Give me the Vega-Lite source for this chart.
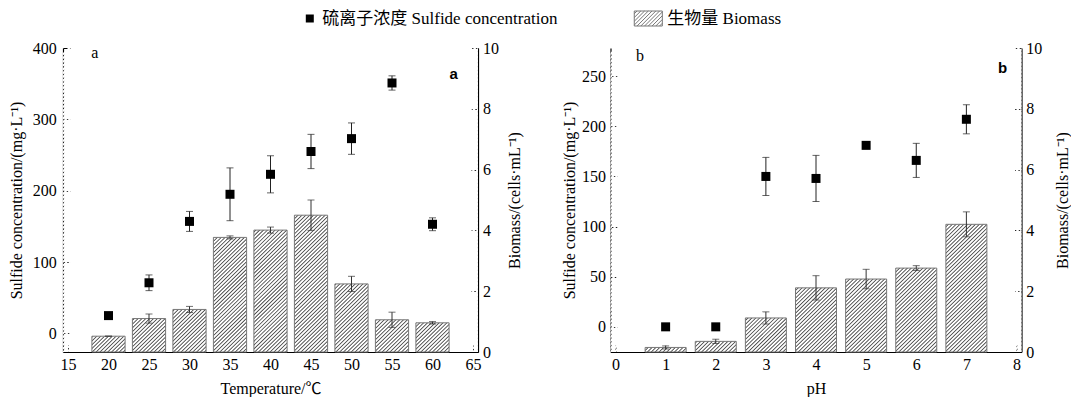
{
  "$schema": "https://vega.github.io/schema/vega-lite/v6.json",
  "padding": {"left": 8, "top": 10, "right": 0, "bottom": 0},
  "spacing": 132.5,
  "bounds": "flush",
  "config": {
    "view": {"stroke": null},
    "axis": {"domainColor": "black", "tickColor": "black", "labelColor": "black", "titleColor": "black", "labelFont": "Liberation Serif, Noto Sans CJK SC", "titleFont": "Liberation Serif, Noto Sans CJK SC", "labelFontSize": 16, "titleFontSize": 16, "titleFontWeight": "normal", "grid": false, "zindex": 1, "domainWidth": 1.2, "tickWidth": 1, "labelOverlap": false},
    "legend": {"padding": 0, "labelFont": "Liberation Serif, Noto Sans CJK SC", "labelFontSize": 17, "labelColor": "black", "labelLimit": 400}
  },
  "hconcat": [
    {
      "width": 415, "height": 304,
      "data": {"values": [
        {"t": 20, "s": 25, "se": 0, "b": 0.52, "be": 0},
        {"t": 25, "s": 71, "se": 11, "b": 1.10, "be": 0.15},
        {"t": 30, "s": 157, "se": 14, "b": 1.40, "be": 0.10},
        {"t": 35, "s": 195, "se": 37, "b": 3.77, "be": 0.05},
        {"t": 40, "s": 223, "se": 26, "b": 4.01, "be": 0.10},
        {"t": 45, "s": 255, "se": 24, "b": 4.50, "be": 0.50},
        {"t": 50, "s": 273, "se": 22, "b": 2.24, "be": 0.25},
        {"t": 55, "s": 351, "se": 10, "b": 1.06, "be": 0.25},
        {"t": 60, "s": 153, "se": 9, "b": 0.96, "be": 0.04}
      ]},
      "layer": [
        {"layer": [
          {"mark": {"type": "bar", "width": 33.2, "color": "#383838"},
           "encoding": {
             "x": {"field": "t", "type": "quantitative", "title": "Temperature/℃", "scale": {"domain": [15, 65], "nice": false, "zero": false}, "axis": {"values": [15, 20, 25, 30, 35, 40, 45, 50, 55, 60, 65], "tickSize": -7, "labelPadding": 11.5, "labelFlush": false, "titlePadding": 8}},
             "y": {"field": "b", "type": "quantitative", "title": "Biomass/(cells·mL⁻¹)", "scale": {"domain": [0, 10], "nice": false}, "axis": {"orient": "right", "values": [0, 1, 2, 3, 4, 5, 6, 7, 8, 9, 10], "labelExpr": "datum.value % 2 === 0 ? datum.label : ''", "tickSize": -7, "tickDash": {"condition": {"test": "datum.value % 2 !== 0", "value": [4, 20]}, "value": [8, 0]}, "titleAngle": -90, "titleBaseline": "top", "labelPadding": 11.5, "titlePadding": 8}}}},
          {"data": {"values": [{}]},
           "mark": {"type": "rule", "clip": true, "color": "white", "strokeWidth": 1200, "strokeDash": [1.9, 0.8], "strokeCap": "butt"},
           "encoding": {"x": {"datum": 15, "type": "quantitative"}, "x2": {"datum": 65}, "y": {"datum": 10, "type": "quantitative"}, "y2": {"datum": -3.65}}},
          {"mark": {"type": "bar", "width": 33.2, "fill": "transparent", "strokeWidth": 1},
           "encoding": {
             "x": {"field": "t", "type": "quantitative", "title": "Temperature/℃"},
             "y": {"field": "b", "type": "quantitative", "title": "Biomass/(cells·mL⁻¹)"},
             "stroke": {"datum": "生物量 Biomass", "scale": {"range": ["#777777"]}, "legend": {"orient": "none", "legendX": 576.8, "legendY": -38, "title": null, "symbolType": "M-1.87,-1H1.87V1H-1.87Z M-1.87,-0.63L-1.5,-1 M-1.87,-0.13L-1,-1 M-1.87,0.37L-0.5,-1 M-1.87,0.87L0,-1 M-1.5,1L0.5,-1 M-1,1L1,-1 M-0.5,1L1.5,-1 M0,1L1.87,-0.87 M0.5,1L1.87,-0.37 M1,1L1.87,0.13 M1.5,1L1.87,0.63", "symbolSize": 225, "symbolStrokeWidth": 1, "symbolFillColor": "white", "labelOffset": 10.5}}}},
          {"mark": {"type": "errorbar", "ticks": {"size": 7}, "color": "#333333"},
           "encoding": {"x": {"field": "t", "type": "quantitative", "title": "Temperature/℃"}, "y": {"field": "b", "type": "quantitative", "title": "Biomass/(cells·mL⁻¹)"}, "yError": {"field": "be"}}},
          {"data": {"values": [{}]},
           "mark": {"type": "text", "text": "a", "font": "Liberation Serif", "fontSize": 16, "baseline": "middle"},
           "encoding": {"x": {"datum": 18.3, "type": "quantitative"}, "y": {"datum": 9.82, "type": "quantitative"}}},
          {"data": {"values": [{}]},
           "mark": {"type": "text", "text": "a", "font": "Liberation Sans", "fontWeight": "bold", "fontSize": 15, "baseline": "middle"},
           "encoding": {"x": {"datum": 62.6, "type": "quantitative"}, "y": {"datum": 9.13, "type": "quantitative"}}}
        ]},
        {"layer": [
          {"mark": {"type": "errorbar", "ticks": {"size": 7}, "color": "#222222"},
           "encoding": {"x": {"field": "t", "type": "quantitative", "title": "Temperature/℃"}, "y": {"field": "s", "type": "quantitative", "title": "Sulfide concentration/(mg·L⁻¹)", "scale": {"domain": [-26, 400], "nice": false, "zero": false}}, "yError": {"field": "se"}}},
          {"mark": {"type": "point", "filled": true, "color": "black", "size": 81, "opacity": 1, "strokeWidth": 0},
           "encoding": {
             "x": {"field": "t", "type": "quantitative", "title": "Temperature/℃"},
             "y": {"field": "s", "type": "quantitative", "title": "Sulfide concentration/(mg·L⁻¹)", "axis": {"orient": "left", "values": [0, 25, 50, 75, 100, 125, 150, 175, 200, 225, 250, 275, 300, 325, 350, 375, 400], "labelExpr": "datum.value % 50 === 0 ? datum.label : ''", "tickSize": -7, "tickDash": {"condition": {"test": "datum.value % 50 !== 0", "value": [4, 20]}, "value": [8, 0]}, "labelPadding": 13.7, "titlePadding": 8}},
             "shape": {"datum": "硫离子浓度 Sulfide concentration", "scale": {"range": ["square"]}, "legend": {"orient": "none", "legendX": 238.3, "legendY": -38, "title": null, "symbolSize": 64, "symbolFillColor": "black", "symbolStrokeWidth": 0, "labelOffset": 4}}}}
        ]}
      ],
      "resolve": {"scale": {"y": "independent"}}
    },
    {
      "width": 411, "height": 304,
      "data": {"values": [
        {"p": 1, "s": 0, "se": 0, "b": 0.15, "be": 0.05},
        {"p": 2, "s": 0, "se": 0, "b": 0.35, "be": 0.07},
        {"p": 3, "s": 150, "se": 19, "b": 1.12, "be": 0.20},
        {"p": 4, "s": 148, "se": 23, "b": 2.11, "be": 0.40},
        {"p": 5, "s": 181, "se": 0, "b": 2.40, "be": 0.32},
        {"p": 6, "s": 166, "se": 17, "b": 2.76, "be": 0.08},
        {"p": 7, "s": 207, "se": 14.5, "b": 4.20, "be": 0.41}
      ]},
      "layer": [
        {"layer": [
          {"mark": {"type": "bar", "width": 41, "color": "#383838"},
           "encoding": {
             "x": {"field": "p", "type": "quantitative", "title": "pH", "scale": {"domain": [0, 8], "nice": false, "zero": false}, "axis": {"values": [0, 1, 2, 3, 4, 5, 6, 7, 8], "tickSize": -7, "labelPadding": 11.5, "labelFlush": false, "titlePadding": 8}},
             "y": {"field": "b", "type": "quantitative", "title": "Biomass/(cells·mL⁻¹)", "scale": {"domain": [0, 10], "nice": false}, "axis": {"orient": "right", "values": [0, 1, 2, 3, 4, 5, 6, 7, 8, 9, 10], "labelExpr": "datum.value % 2 === 0 ? datum.label : ''", "tickSize": -7, "tickDash": {"condition": {"test": "datum.value % 2 !== 0", "value": [4, 20]}, "value": [8, 0]}, "titleAngle": -90, "titleBaseline": "top", "labelPadding": 11.3, "titlePadding": 13}}}},
          {"data": {"values": [{}]},
           "mark": {"type": "rule", "clip": true, "color": "white", "strokeWidth": 1200, "strokeDash": [1.9, 0.8], "strokeCap": "butt"},
           "encoding": {"x": {"datum": 0, "type": "quantitative"}, "x2": {"datum": 8}, "y": {"datum": 10, "type": "quantitative"}, "y2": {"datum": -3.52}}},
          {"mark": {"type": "bar", "width": 41, "fill": "transparent", "stroke": "#777777", "strokeWidth": 1},
           "encoding": {"x": {"field": "p", "type": "quantitative", "title": "pH"}, "y": {"field": "b", "type": "quantitative", "title": "Biomass/(cells·mL⁻¹)"}}},
          {"mark": {"type": "errorbar", "ticks": {"size": 7}, "color": "#333333"},
           "encoding": {"x": {"field": "p", "type": "quantitative", "title": "pH"}, "y": {"field": "b", "type": "quantitative", "title": "Biomass/(cells·mL⁻¹)"}, "yError": {"field": "be"}}},
          {"data": {"values": [{}]},
           "mark": {"type": "text", "text": "b", "font": "Liberation Serif", "fontSize": 16, "baseline": "middle"},
           "encoding": {"x": {"datum": 0.49, "type": "quantitative"}, "y": {"datum": 9.73, "type": "quantitative"}}},
          {"data": {"values": [{}]},
           "mark": {"type": "text", "text": "b", "font": "Liberation Sans", "fontWeight": "bold", "fontSize": 15, "baseline": "middle"},
           "encoding": {"x": {"datum": 7.72, "type": "quantitative"}, "y": {"datum": 9.33, "type": "quantitative"}}}
        ]},
        {"layer": [
          {"mark": {"type": "errorbar", "ticks": {"size": 7}, "color": "#222222"},
           "encoding": {"x": {"field": "p", "type": "quantitative", "title": "pH"}, "y": {"field": "s", "type": "quantitative", "title": "Sulfide concentration/(mg·L⁻¹)", "scale": {"domain": [-25.1, 278.1], "nice": false, "zero": false}}, "yError": {"field": "se"}}},
          {"mark": {"type": "point", "filled": true, "color": "black", "size": 81, "opacity": 1, "strokeWidth": 0, "shape": "square"},
           "encoding": {
             "x": {"field": "p", "type": "quantitative", "title": "pH"},
             "y": {"field": "s", "type": "quantitative", "title": "Sulfide concentration/(mg·L⁻¹)", "axis": {"orient": "left", "values": [0, 25, 50, 75, 100, 125, 150, 175, 200, 225, 250, 275], "labelExpr": "datum.value % 50 === 0 ? datum.label : ''", "tickSize": -7, "tickDash": {"condition": {"test": "datum.value % 50 !== 0", "value": [4, 20]}, "value": [8, 0]}, "labelPadding": 12, "titlePadding": 4}}}}
        ]}
      ],
      "resolve": {"scale": {"y": "independent"}}
    }
  ]
}
